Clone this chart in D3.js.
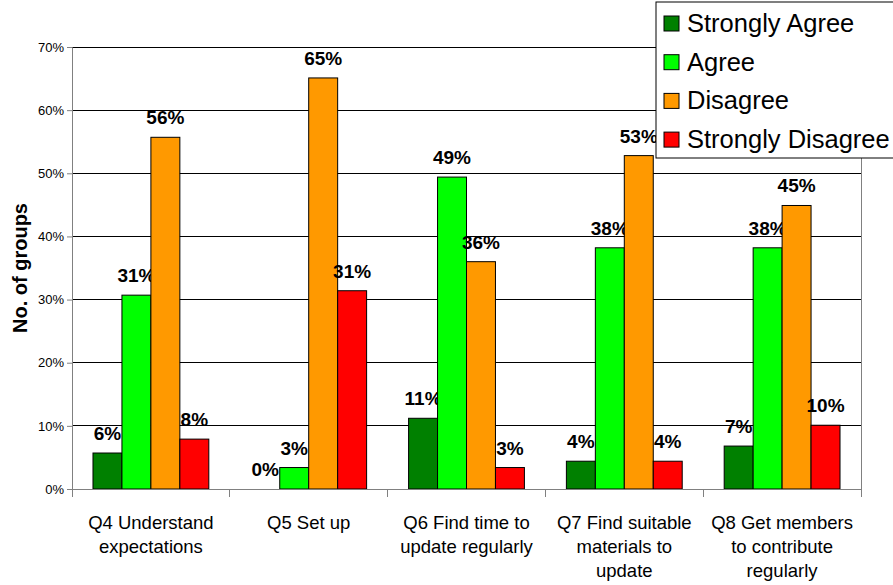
<!DOCTYPE html>
<html>
<head>
<meta charset="utf-8">
<script src="https://cdn.jsdelivr.net/npm/d3@7"></script>
<style>
  body { margin: 0; background: #fff; }
  text { font-family: "Liberation Sans", Arial, sans-serif; }
</style>
</head>
<body>
<div id="grafico"></div>
<script>
// Datos
const categorias = [
    ["Q4 Understand", "expectations"],
    ["Q5 Set up"],
    ["Q6 Find time to", "update regularly"],
    ["Q7 Find suitable", "materials to", "update"],
    ["Q8 Get members", "to contribute", "regularly"]
];
const series = ["Strongly Agree", "Agree", "Disagree", "Strongly Disagree"];
const stronglyAgree = [5.7, 0, 11.2, 4.4, 6.8];
const agree = [30.7, 3.4, 49.4, 38.2, 38.2];
const disagree = [55.7, 65.1, 36.0, 52.8, 44.9];
const stronglyDisagree = [7.9, 31.4, 3.4, 4.4, 10.1];
const yTicks = [0, 10, 20, 30, 40, 50, 60, 70];
const colores = ["#008000", "#00ff00", "#ff9900", "#ff0000"];

const valores = [stronglyAgree, agree, disagree, stronglyDisagree];
const ids = categorias.map((c, i) => "c" + i);

const svgWidth = 893, svgHeight = 585;
const margin = { top: 47, right: 32, bottom: 96, left: 72 };
const width = svgWidth - margin.left - margin.right;
const height = svgHeight - margin.top - margin.bottom;

const svg = d3.select("#grafico")
    .append("svg")
    .attr("width", svgWidth)
    .attr("height", svgHeight);

const g = svg.append("g")
    .attr("transform", `translate(${margin.left}, ${margin.top})`);

// Escalas
const x0 = d3.scaleBand().domain(ids).range([0, width]);
const x1 = d3.scaleBand().domain(series)
    .range([x0.bandwidth() * 0.133, x0.bandwidth() * 0.867]);
const y = d3.scaleLinear().domain([0, 70]).range([height, 0]);

// Lineas de la cuadricula
g.selectAll(".grid")
    .data(yTicks.filter(t => t > 0))
    .enter()
    .append("line")
    .attr("x1", 0).attr("x2", width)
    .attr("y1", d => y(d)).attr("y2", d => y(d))
    .attr("stroke", "#000").attr("stroke-width", 1).attr("shape-rendering", "crispEdges");

// Borde derecho
g.append("line")
    .attr("x1", width).attr("x2", width).attr("y1", 0).attr("y2", height)
    .attr("stroke", "#808080").attr("shape-rendering", "crispEdges");

// Barras
const grupos = g.selectAll(".grupo")
    .data(ids)
    .enter()
    .append("g")
    .attr("transform", d => `translate(${x0(d)},0)`);

grupos.each(function (id, i) {
    const grp = d3.select(this);
    series.forEach((s, j) => {
        const v = valores[j][i];
        if (v > 0) {
            grp.append("rect")
                .attr("x", x1(s))
                .attr("y", y(v))
                .attr("width", x1.bandwidth())
                .attr("height", height - y(v))
                .attr("fill", colores[j])
                .attr("stroke", "#000")
                .attr("stroke-width", 1);
        }
        grp.append("text")
            .attr("x", x1(s) + x1.bandwidth() / 2)
            .attr("y", y(v) - 13)
            .attr("text-anchor", "middle")
            .attr("font-size", "19px")
            .attr("font-weight", "bold")
            .attr("fill", "#000")
            .text(Math.round(v) + "%");
    });
});

// Ejes
const ejeY = g.append("g")
    .call(d3.axisLeft(y).tickValues(yTicks).tickSize(5).tickFormat(d => d + "%"));
ejeY.select(".domain").attr("stroke", "#808080");
ejeY.selectAll(".tick line").attr("stroke", "#808080");
ejeY.selectAll(".tick text").attr("font-size", "13px").attr("fill", "#000")
    .attr("font-family", "Liberation Sans, Arial, sans-serif");

const ejeX = g.append("g").attr("transform", `translate(0, ${height})`);
ejeX.append("line").attr("x1", 0).attr("x2", width)
    .attr("stroke", "#808080").attr("shape-rendering", "crispEdges");
ejeX.selectAll(".tk")
    .data([0, ...ids.map(d => x0(d) + x0.bandwidth())])
    .enter()
    .append("line")
    .attr("x1", d => d).attr("x2", d => d)
    .attr("y1", 0).attr("y2", 8)
    .attr("stroke", "#808080").attr("shape-rendering", "crispEdges");

ejeX.selectAll(".etq")
    .data(categorias)
    .enter()
    .append("text")
    .attr("text-anchor", "middle")
    .attr("font-size", "18.5px")
    .attr("fill", "#000")
    .each(function (lineas, i) {
        const t = d3.select(this);
        lineas.forEach((l, k) => {
            t.append("tspan")
                .attr("x", x0(ids[i]) + x0.bandwidth() / 2)
                .attr("y", 40 + k * 24)
                .text(l);
        });
    });

// Titulo eje Y
svg.append("text")
    .attr("transform", `translate(27, ${margin.top + 221}) rotate(-90)`)
    .attr("text-anchor", "middle")
    .attr("font-size", "20px")
    .attr("font-weight", "bold")
    .text("No. of groups");

// Leyenda
const legend = svg.append("g").attr("transform", "translate(656, 2)");
legend.append("rect")
    .attr("width", 250).attr("height", 156)
    .attr("fill", "#fff").attr("stroke", "#000").attr("stroke-width", 1);

series.forEach((s, j) => {
    legend.append("rect")
        .attr("x", 8).attr("y", 14 + j * 38.7)
        .attr("width", 15).attr("height", 15)
        .attr("fill", colores[j]).attr("stroke", "#000");
    legend.append("text")
        .attr("x", 31).attr("y", 30 + j * 38.7)
        .attr("font-size", "25.5px")
        .attr("fill", "#000")
        .text(s);
});
</script>
</body>
</html>
